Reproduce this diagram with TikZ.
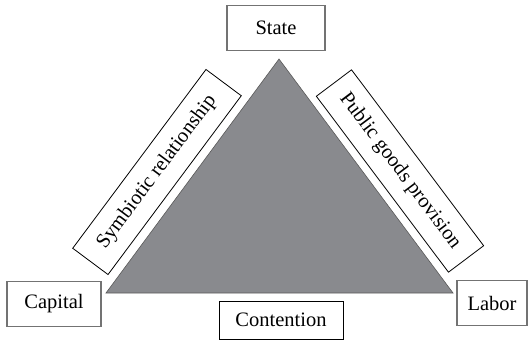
\documentclass[tikz,border=0pt]{standalone}
\usepackage{fontspec}
\setmainfont{Liberation Serif}
\usetikzlibrary{positioning}

\definecolor{wedge}{RGB}{137,138,142}

\tikzset{
  actor/.style={draw=black!55,line width=1.2pt,fill=white,inner sep=0pt,
    minimum height=45pt,font=\fontsize{20.5}{24}\selectfont},
  link/.style={draw=black,line width=0.8pt,fill=white,inner sep=0pt,
    minimum width=223pt,minimum height=44pt,font=\fontsize{20.5}{24}\selectfont}
}

\begin{document}
\begin{tikzpicture}[x=1pt,y=-1pt]
\useasboundingbox (0,0) rectangle (528,340);

\coordinate (top) at (279,59);
\coordinate (left) at (106,293);
\coordinate (right) at (453,293);
\filldraw[draw=black!65,line width=0.6pt,fill=wedge] (top) -- (left) -- (right) -- cycle;

\node[actor,minimum width=98pt] (state) at (276,28) {State};
\node[actor,minimum width=94pt] (capital) at (54,304) {Capital};
\node[actor,minimum width=70pt] (labor) at (492,303) {Labor};
\node[actor,draw=black,line width=0.8pt,minimum width=124pt,minimum height=38pt] (contention) at (281,320) {Contention};

\node[link,rotate=53.3] (symb) at (157,172) {Symbiotic relationship};
\node[link,rotate=-53.1,minimum width=220pt] (pub) at (400,171) {Public goods provision};

\end{tikzpicture}
\end{document}
